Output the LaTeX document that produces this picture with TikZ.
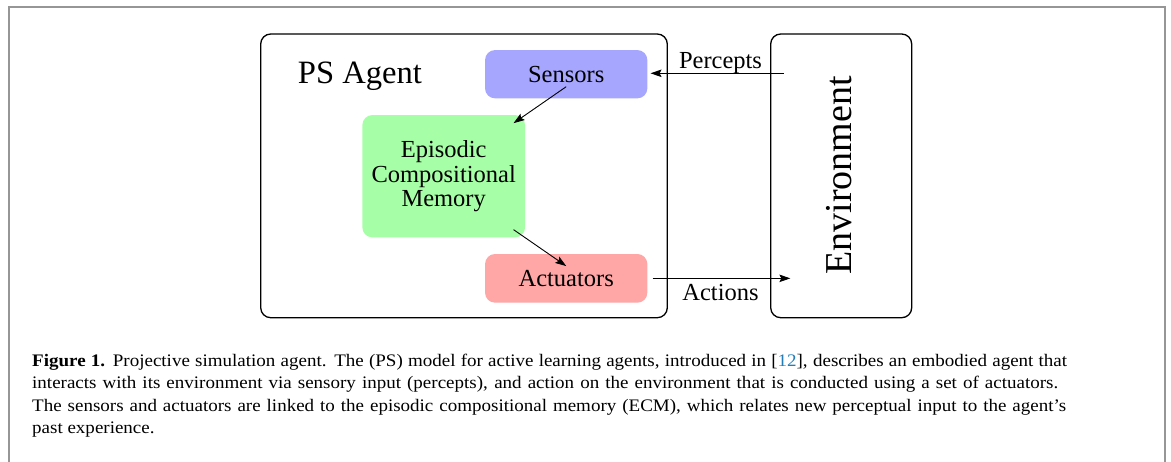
\documentclass[tikz,border=0pt]{standalone}
\usepackage{fontspec}
\setmainfont{Liberation Serif}
\newfontfamily\capfont[FakeStretch=1.08]{Liberation Serif}
\usetikzlibrary{arrows.meta}
\definecolor{sensfill}{RGB}{166,166,255}
\definecolor{ecmfill}{RGB}{166,255,166}
\definecolor{actfill}{RGB}{255,166,166}
\definecolor{framegray}{RGB}{150,150,150}
\definecolor{citeblue}{RGB}{35,125,185}
\newcommand{\fsz}[2]{\fontsize{#1}{#2}\selectfont}
\begin{document}
\begin{tikzpicture}[x=1pt,y=-1pt,
  container/.style={draw=black,line width=1.3pt,rounded corners=10pt,inner sep=0pt},
  module/.style={draw=none,rounded corners=10pt,inner sep=0pt,align=center,
    font=\fsz{24.5}{24.7}},
  flow/.style={line width=0.9pt,-{Stealth[length=11pt,width=7.5pt,inset=2pt]}},
  lbl/.style={inner sep=0pt,font=\fsz{24.5}{26}},
  capline/.style={anchor=base west,inner sep=0pt,font=\capfont\fsz{17.6}{22}}]
\useasboundingbox (0,0) rectangle (1171,461);
\clip (0,0) rectangle (1171,461);
\fill[white] (0,0) rectangle (1171,461);
% figure frame
\draw[framegray,line width=2pt] (9,7) rectangle (1165,480);

% agent and environment
\node[container,minimum width=406.6pt,minimum height=283.7pt] (agent) at (464,175.85) {};
\node[container,minimum width=141pt,minimum height=283.7pt] (env) at (841.2,175.85) {};
\node[anchor=base west,inner sep=0pt,font=\fsz{32.6}{34}] (title) at (297.7,83) {PS Agent};
\node[inner sep=0pt,rotate=90,font=\fsz{38}{40}] (envtext) at (839.5,175.5) {Environment};

% modules
\node[module,fill=sensfill,minimum width=162.3pt,minimum height=48.3pt] (sens) at (566.2,74.2) {Sensors};
\node[module,fill=ecmfill,minimum width=162.7pt,minimum height=122.3pt] (ecm) at (443.7,176.2) {Episodic\\Compositional\\Memory};
\node[module,fill=actfill,minimum width=162.3pt,minimum height=48.7pt] (act) at (566.2,278.35) {Actuators};

% connectors (yshift is measured upwards)
\coordinate (pin) at ([xshift=13.6pt,yshift=0.9pt]env.west |- sens.east);
\coordinate (aout) at ([xshift=20.3pt]env.west |- act.east);
\draw[flow] (pin) -- ([xshift=3pt,yshift=0.9pt]sens.east);
\draw[flow] ([xshift=5pt]act.east) -- (aout);
\draw[flow] ([yshift=-12.5pt]sens.center) -- ([xshift=-11.7pt,yshift=-8.3pt]ecm.north east);
\draw[flow] ([xshift=-11.7pt,yshift=7.9pt]ecm.south east) -- ([yshift=12.3pt]act.center);
\node[lbl,anchor=base] (perc) at (720.5,68.3) {Percepts};
\node[lbl,anchor=base] (acts) at (720.5,300.5) {Actions};

% caption
\node[capline] (c1) at (32,366.5) {\makebox[1035pt][s]{\textbf{Figure 1.} Projective simulation agent. The (PS) model for active learning agents, introduced in [\textcolor{citeblue}{12}], describes an embodied agent that}};
\node[capline] (c2) at (32,388.9) {\makebox[1026pt][s]{interacts with its environment via sensory input (percepts), and action on the environment that is conducted using a set of actuators.}};
\node[capline] (c3) at (32,411.3) {\makebox[1034pt][s]{The sensors and actuators are linked to the episodic compositional memory (ECM), which relates new perceptual input to the agent’s}};
\node[capline] (c4) at (32,433.7) {past experience.};
\end{tikzpicture}
\end{document}
